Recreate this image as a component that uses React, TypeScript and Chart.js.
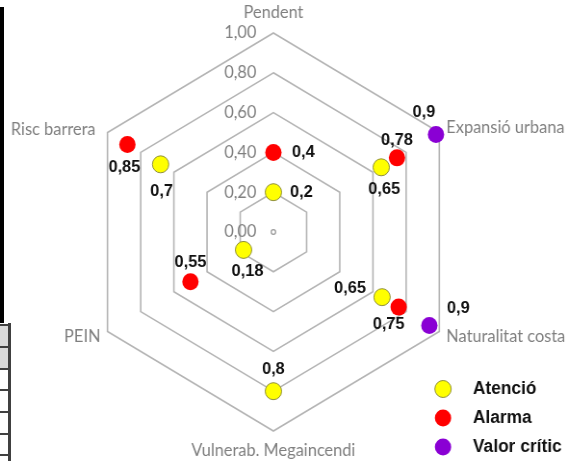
import React, { useEffect, useRef } from 'react';
import { Chart, registerables } from 'chart.js';

Chart.register(...registerables);

// ---- data ----
const categories = ['Pendent', 'Expansió urbana', 'Naturalitat costa', 'Vulnerab. Megaincendi', 'PEIN', 'Risc barrera'];
const seriesNames = ['Atenció', 'Alarma', 'Valor crític'];
const atencioValues = [0.2, 0.65, 0.655, 0.8, 0.18, 0.68];
const alarmaValues = [0.4, 0.745, 0.755, null, 0.5, 0.88];
const criticValues = [null, 0.98, 0.94, null, null, null];
const atencioLabels = ['0,2', '0,65', '0,65', '0,8', '0,18', '0,7'];
const alarmaLabels = ['0,4', '0,78', '0,75', null, '0,55', '0,85'];
const criticLabels = [null, '0,9', '0,9', null, null, null];
const tickValues = [0, 0.2, 0.4, 0.6, 0.8, 1.0];
const tickLabels = ['0,00', '0,20', '0,40', '0,60', '0,80', '1,00'];

// ---- style ----
const CANVAS_W = 589;
const CANVAS_H = 461;
const SX = 567 / CANVAS_W;
const colors = {
  fill: ['#ffff00', '#ff0000', '#8a00d4'],
  border: ['#8f8f3a', '#ff0000', '#8a00d4'],
};
const valueLabelOffsets: ([number, number] | null)[][] = [
  [[28, 0], [3, 22], [-32, -9], [0, -22], [4, 21], [1, 27]],
  [[30, 0], [0, -18], [-10, 17], null, [0, -19], [-3, 23]],
  [null, [-12, -22], [29, -17], null, null, null],
];
const pointLabelStyle: { align: CanvasTextAlign; dx: number; dy: number }[] = [
  { align: 'center', dx: 0, dy: -20 },
  { align: 'left', dx: 7, dy: -5 },
  { align: 'left', dx: 7, dy: 5 },
  { align: 'center', dx: 0, dy: 20 },
  { align: 'right', dx: -7, dy: 5 },
  { align: 'right', dx: -12, dy: -3 },
];
const valueLabelTexts = [atencioLabels, alarmaLabels, criticLabels];
const textFont = '17px Lato';
const boldFont = 'bold 17px "Liberation Sans", Arial, sans-serif';
const legendFont = 'bold 18px "Liberation Sans", Arial, sans-serif';

const overlayPlugin = {
  id: 'overlay',
  afterDraw(chart: any) {
    const ctx: CanvasRenderingContext2D = chart.ctx;
    const r = chart.scales.r;
    ctx.save();

    // centre marker
    ctx.beginPath();
    ctx.strokeStyle = '#9a9a9a';
    ctx.lineWidth = 1.3;
    ctx.arc(r.xCenter, r.yCenter, 2.3, 0, Math.PI * 2);
    ctx.stroke();

    // tick labels
    ctx.font = textFont;
    ctx.fillStyle = '#7f7f7f';
    ctx.textAlign = 'right';
    ctx.textBaseline = 'middle';
    tickValues.forEach((v, i) => {
      const p = r.getPointPositionForValue(0, v);
      ctx.fillText(tickLabels[i], r.xCenter - 17 / SX, p.y);
    });

    // point labels
    categories.forEach((c, i) => {
      const p = r.getPointPosition(i, r.drawingArea);
      const s = pointLabelStyle[i];
      ctx.textAlign = s.align;
      ctx.fillText(c, p.x + s.dx / SX, p.y + s.dy);
    });

    // value labels
    ctx.font = boldFont;
    ctx.fillStyle = '#111111';
    ctx.textAlign = 'center';
    chart.data.datasets.forEach((ds: any, d: number) => {
      const meta = chart.getDatasetMeta(d);
      ds.data.forEach((v: number | null, i: number) => {
        const txt = valueLabelTexts[d][i];
        const off = valueLabelOffsets[d][i];
        if (v == null || !txt || !off) return;
        const el = meta.data[i];
        ctx.fillText(txt, el.x + off[0] / SX, el.y + off[1]);
      });
    });

    // legend
    chart.data.datasets.forEach((ds: any, d: number) => {
      const y = 389 + d * 29;
      const cx = 443 / SX;
      ctx.beginPath();
      ctx.fillStyle = ds.pointBackgroundColor;
      ctx.arc(cx, y, 8.5, 0, Math.PI * 2);
      ctx.fill();
      if (d === 0) {
        ctx.strokeStyle = ds.pointBorderColor;
        ctx.lineWidth = 1;
        ctx.stroke();
      }
      ctx.font = legendFont;
      ctx.fillStyle = '#111111';
      ctx.textAlign = 'left';
      ctx.textBaseline = 'middle';
      ctx.fillText(ds.label, 473 / SX, y);
    });

    ctx.restore();
  },
};

function makeDataset(label: string, data: (number | null)[], i: number) {
  return {
    label,
    data,
    showLine: false,
    fill: false,
    borderWidth: 0,
    borderColor: 'rgba(0,0,0,0)',
    backgroundColor: 'rgba(0,0,0,0)',
    pointBackgroundColor: colors.fill[i],
    pointBorderColor: colors.border[i],
    pointBorderWidth: i === 0 ? 1 : 0,
    pointRadius: 8.5,
    pointHoverRadius: 8.5,
  };
}

export default function App() {
  const ref = useRef<HTMLCanvasElement | null>(null);
  useEffect(() => {
    if (!ref.current) return;
    const chart = new Chart(ref.current, {
      type: 'radar',
      data: {
        labels: categories,
        datasets: [
          makeDataset(seriesNames[0], atencioValues, 0),
          makeDataset(seriesNames[1], alarmaValues, 1),
          makeDataset(seriesNames[2], criticValues, 2),
        ],
      },
      options: {
        responsive: false,
        animation: false,
        devicePixelRatio: 1,
        layout: { padding: { top: 33, bottom: 29, left: 84, right: 105 } },
        plugins: { legend: { display: false }, tooltip: { enabled: false } },
        scales: {
          r: {
            min: 0,
            max: 1,
            ticks: { display: false, stepSize: 0.2 },
            grid: { color: '#b4b4b4', lineWidth: 1.6, circular: false },
            angleLines: { display: false },
            pointLabels: { display: false },
          },
        },
      } as any,
      plugins: [overlayPlugin],
    });
    return () => chart.destroy();
  }, []);

  const dark = '#404040';
  const rowLines = [324, 346, 368, 389, 411, 433, 454];
  return (
    <div style={{ position: 'absolute', left: 0, top: 0, width: 567, height: 461, background: '#fff', overflow: 'hidden' }}>
      <canvas
        ref={ref}
        width={CANVAS_W}
        height={CANVAS_H}
        style={{ position: 'absolute', left: 0, top: 0, width: '567px', height: '461px' }}
      />
      <div style={{ position: 'absolute', left: 0, top: 7, width: 4, height: 316, background: '#000' }} />
      <div style={{ position: 'absolute', left: 0, top: 325, width: 8, height: 21, background: '#d9d9d9' }} />
      <div style={{ position: 'absolute', left: 0, top: 347, width: 8, height: 21, background: '#d9d9d9' }} />
      {rowLines.map((y) => (
        <div key={y} style={{ position: 'absolute', left: 0, top: y, width: 10, height: 2, background: dark }} />
      ))}
      <div style={{ position: 'absolute', left: 8, top: 323, width: 3, height: 138, background: dark }} />
    </div>
  );
}
